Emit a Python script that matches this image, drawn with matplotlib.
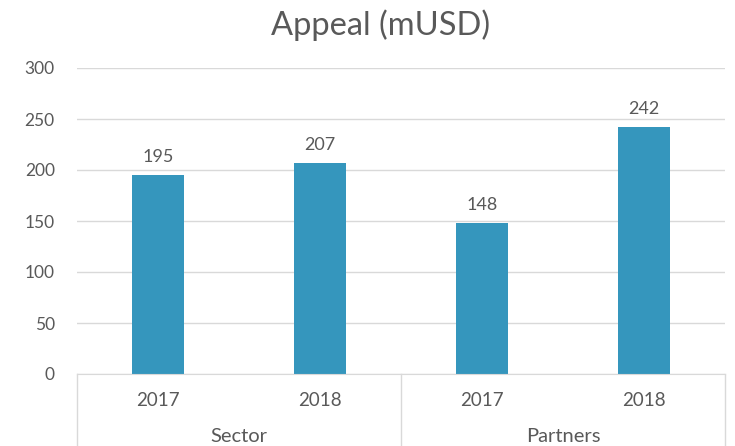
import matplotlib
matplotlib.use("Agg")
import matplotlib.pyplot as plt
import matplotlib.transforms as mtransforms

groups = ["Sector", "Partners"]
years = ["2017", "2018", "2017", "2018"]
values = [195, 207, 148, 242]
yticks = [0, 50, 100, 150, 200, 250, 300]
title = "Appeal (mUSD)"

plt.rcParams['font.family'] = ['Lato', 'DejaVu Sans']
txt = "#595959"
grid = "#d9d9d9"
bar_color = "#3596BD"

fig = plt.figure(figsize=(7.35, 4.46), dpi=100)
ax = fig.add_axes([77/735, (446-374)/446, (725-77)/735, (374-68)/446])

x = list(range(len(values)))
ax.bar(x, values, width=0.32, color=bar_color, zorder=3)
for xi, v in zip(x, values):
    ax.text(xi, v + 10, str(v), ha="center", va="bottom", fontsize=13, color=txt)

ax.set_xlim(-0.5, len(values) - 0.5)
ax.set_ylim(0, 300)
ax.set_yticks(yticks)
ax.set_yticklabels([str(t) for t in yticks], fontsize=12.5, color=txt)
ax.tick_params(axis="y", length=0, pad=16)
ax.set_xticks([])
ax.yaxis.grid(True, color=grid, linewidth=1, zorder=0)
for s in ["top", "right", "left"]:
    ax.spines[s].set_visible(False)
ax.spines["bottom"].set_color(grid)
ax.spines["bottom"].set_zorder(4)

trans = mtransforms.blended_transform_factory(ax.transData, ax.transAxes)
unit = 306.0
for xi, yr in zip(x, years):
    ax.text(xi, -26/unit, yr, transform=trans, ha="center", va="center", fontsize=13.5, color=txt)
for gi, g in enumerate(groups):
    ax.text(gi*2 + 0.5, -63/unit, g, transform=trans, ha="center", va="center", fontsize=14.5, color=txt)
for xb in [-0.5, 1.5, 3.5]:
    ax.plot([xb, xb], [0, -80/unit], transform=trans, color=grid, linewidth=1, clip_on=False)

fig.text(381/735, (446-25)/446, title, ha="center", va="center", fontsize=23.5, color=txt)

fig.savefig("out.png", dpi=100)
